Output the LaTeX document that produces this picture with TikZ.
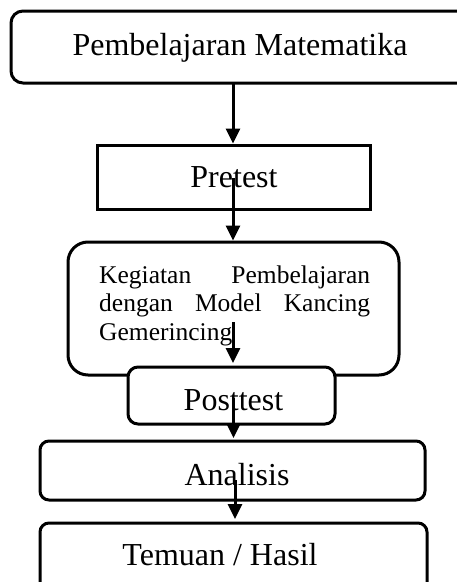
\documentclass[tikz,border=0pt]{standalone}
\usepackage{fontspec}
\setmainfont{Liberation Serif}
\usetikzlibrary{arrows.meta}
\begin{document}
\begin{tikzpicture}[x=1pt,y=-1pt,
  box/.style={draw=black, line width=3pt, fill=white, inner sep=0pt, outer sep=0pt},
  lbl/.style={anchor=base, inner sep=0pt, font=\fontsize{32}{38}\selectfont},
  flow/.style={line width=3pt, -{Triangle[width=14pt,length=15pt]}}
]
\useasboundingbox (0,0) rectangle (457,582);
\clip (0,0) rectangle (457,582);
\fill[white] (0,0) rectangle (457,582);

% boxes
\node[box, rounded corners=12pt, minimum width=489pt, minimum height=72pt] (top) at (255.5,47) {};
\node[box, minimum width=273pt, minimum height=64pt] (pre) at (233.5,177) {};
\node[box, rounded corners=20pt, minimum width=331pt, minimum height=133pt] (keg) at (233.5,308.5) {};
\node[box, rounded corners=10pt, minimum width=207pt, minimum height=57pt] (post) at (231.5,395.5) {};
\node[box, rounded corners=9pt, minimum width=385pt, minimum height=59pt] (ana) at (232.5,470.5) {};
\node[box, rounded corners=9pt, minimum width=387pt, minimum height=87pt] (tem) at (233.5,566.5) {};

% texts
\node[lbl] (ttop) at (240,55) {Pembelajaran Matematika};
\node[lbl] (tpre) at (234,187) {Pretest};
\node[anchor=base west, inner sep=0pt] (tkeg) at (99,283) {\parbox[t]{271pt}{\fontsize{25.5}{28.7}\selectfont\tolerance=10000\hbadness=10000\hyphenpenalty=10000 Kegiatan Pembelajaran dengan Model Kancing Gemerincing}};
\node[lbl] (tpost) at (233.5,410) {Posttest};
\node[lbl] (tana) at (237,485) {Analisis};
\node[lbl] (ttem) at (220,565) {Temuan / Hasil};

% arrow start points
\coordinate (s1) at (233,83);
\coordinate (s2) at (233,178);
\coordinate (s3) at (233,322);
\coordinate (s4) at (233.5,398);
\coordinate (s5) at (235,480);

\draw[flow, shorten >=1.5pt] (s1) -- (s1 |- pre.north);
\draw[flow, shorten >=1.5pt] (s2) -- (s2 |- keg.north);
\draw[flow, shorten >=4pt] (s3) -- (s3 |- post.north);
\draw[flow, shorten >=3pt] (s4) -- (s4 |- ana.north);
\draw[flow, shorten >=4pt] (s5) -- (s5 |- tem.north);
\end{tikzpicture}
\end{document}
